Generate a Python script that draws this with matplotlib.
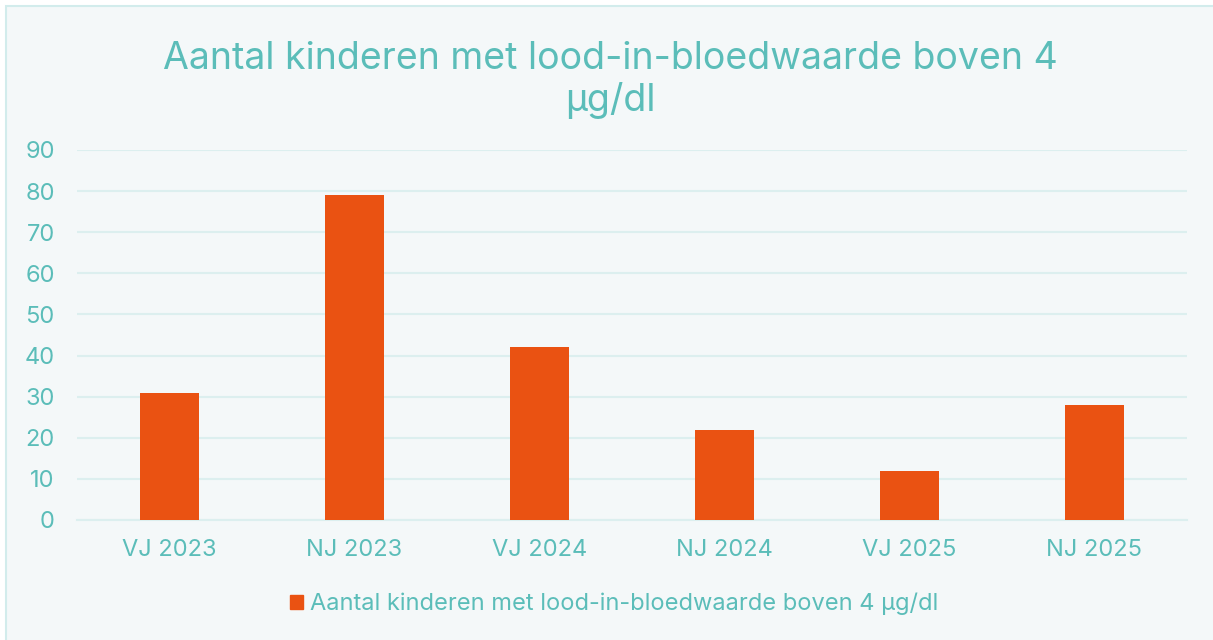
import matplotlib
matplotlib.use("Agg")
import matplotlib.pyplot as plt
from matplotlib.patches import Patch, Rectangle

# data
periods = ["VJ 2023", "NJ 2023", "VJ 2024", "NJ 2024", "VJ 2025", "NJ 2025"]
kinderen = [31, 79, 42, 22, 12, 28]
series_label = "Aantal kinderen met lood-in-bloedwaarde boven 4 µg/dl"
y_ticks = [0, 10, 20, 30, 40, 50, 60, 70, 80, 90]

BAR = "#EA5212"
TEXT = "#5BBDB9"
GRID = "#DCEFEF"
BG = "#F4F8F9"

plt.rcParams["font.family"] = ["Inter", "DejaVu Sans"]

fig = plt.figure(figsize=(12.13, 6.4), dpi=100)
fig.patch.set_facecolor("white")
fig.patches.append(Rectangle((6 / 1213, -0.01), 1.02, 1 - 6 / 640 + 0.01,
                             transform=fig.transFigure, facecolor=BG,
                             edgecolor="#D2ECEC", linewidth=1.5, zorder=-10))

ax = fig.add_axes([77 / 1213, 1 - 520 / 640, 1110 / 1213, 370 / 640])
ax.set_facecolor("none")
x = range(len(periods))
ax.bar(x, kinderen, width=0.315, color=BAR, zorder=3)
ax.set_xlim(-0.5, len(periods) - 0.5)
ax.set_ylim(0, 90)
ax.set_yticks(y_ticks)
ax.set_xticks(list(x), periods)
ax.grid(axis="y", color=GRID, linewidth=1.5, zorder=0)
ax.set_axisbelow(True)
for side in ("top", "right", "left"):
    ax.spines[side].set_visible(False)
ax.spines["bottom"].set_color(GRID)
ax.spines["bottom"].set_linewidth(1.5)
ax.tick_params(axis="both", length=0, labelsize=17, labelcolor=TEXT)
ax.tick_params(axis="y", pad=16)
ax.tick_params(axis="x", pad=14)

fig.text(0.503, 1 - 80 / 640, "Aantal kinderen met lood-in-bloedwaarde boven 4\nµg/dl",
         ha="center", va="center", fontsize=27, color=TEXT, linespacing=1.2)

fig.legend(handles=[Patch(color=BAR, label=series_label)], loc="center",
           bbox_to_anchor=(614 / 1213, 1 - 604 / 640), frameon=False, fontsize=17,
           labelcolor=TEXT, handlelength=0.55, handleheight=0.55, handletextpad=0.3)

fig.savefig("out.png", dpi=100, facecolor=fig.get_facecolor())
